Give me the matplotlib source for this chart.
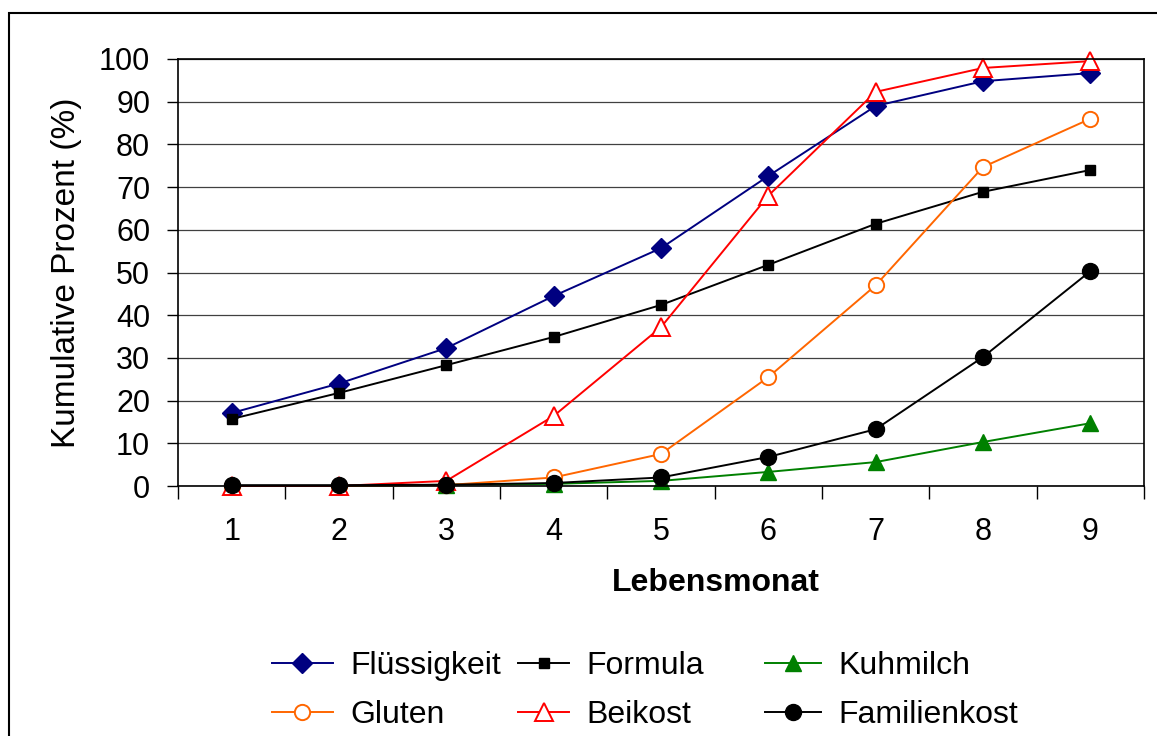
import matplotlib
matplotlib.use("Agg")
import matplotlib.pyplot as plt
from matplotlib.patches import Rectangle

plt.rcParams['font.family'] = ['Liberation Sans', 'DejaVu Sans']

months = [1, 2, 3, 4, 5, 6, 7, 8, 9]
fluessigkeit = [17.1, 24.0, 32.3, 44.5, 55.7, 72.6, 89.0, 94.8, 96.7]
formula = [15.7, 21.8, 28.3, 34.9, 42.4, 51.8, 61.4, 68.9, 74.0]
kuhmilch = [0.0, 0.0, 0.3, 0.5, 1.2, 3.3, 5.6, 10.3, 14.7]
gluten = [0.0, 0.0, 0.2, 2.0, 7.5, 25.5, 47.0, 74.7, 86.0]
beikost = [0.0, 0.0, 1.2, 16.4, 37.2, 68.0, 92.3, 97.9, 99.5]
familienkost = [0.2, 0.2, 0.3, 0.7, 2.0, 6.8, 13.3, 30.2, 50.3]

labels = ['Flüssigkeit', 'Formula', 'Kuhmilch', 'Gluten', 'Beikost', 'Familienkost']
yticks = [0, 10, 20, 30, 40, 50, 60, 70, 80, 90, 100]

fig = plt.figure(figsize=(11.57, 7.36), dpi=100)
ax = fig.add_axes([178/1157, 1-486/736, (1144-178)/1157, (486-59)/736])

lw = 1.4
styles = [
    dict(color='#000080', marker='D', ms=10, mfc='#000080', mec='#000080'),
    dict(color='black', marker='s', ms=7.5, mfc='black', mec='black'),
    dict(color='#008000', marker='^', ms=12, mfc='#008000', mec='#008000'),
    dict(color='#FF6600', marker='o', ms=11, mfc='white', mec='#FF6600', mew=1.4),
    dict(color='#FF0000', marker='^', ms=13, mfc='white', mec='#FF0000', mew=1.4),
    dict(color='black', marker='o', ms=11.5, mfc='black', mec='black'),
]
series = [fluessigkeit, formula, kuhmilch, gluten, beikost, familienkost]
handles = []
for vals, st, lab in zip(series, styles, labels):
    h, = ax.plot(months, vals, lw=lw, label=lab, clip_on=False, **st)
    handles.append(h)

ax.set_xlim(0.5, 9.5)
ax.set_ylim(0, 100)
ax.set_yticks(yticks)
ax.set_xticks(months)
ax.set_xticks([m - 0.5 for m in months] + [9.5], minor=True)
ax.tick_params(axis='x', which='major', length=0, pad=22, labelsize=22)
ax.tick_params(axis='x', which='minor', length=9, width=1, direction='out')
ax.tick_params(axis='y', which='major', length=8, width=1, direction='out', pad=12, labelsize=22)
ax.grid(axis='y', color='#404040', linewidth=0.9)
ax.set_axisbelow(True)
for sp in ax.spines.values():
    sp.set_linewidth(1.2)
    sp.set_color('black')

ax.set_ylabel('Kumulative Prozent (%)', fontsize=24, labelpad=12)
ax.set_xlabel('Lebensmonat', fontsize=23, fontweight='bold')
ax.xaxis.set_label_coords((716-178)/966, -(583-486)/427, transform=ax.transAxes)
ax.xaxis.label.set_va('center')

# legend in three columns
cols = [(0, 3), (1, 4), (2, 5)]
xpos = [272/1157, 518/1157, 765/1157]
hlens = [1.9, 1.6, 1.75]
for (i, j), x, hl in zip(cols, xpos, hlens):
    fig.legend([handles[i], handles[j]], [labels[i], labels[j]],
               loc='upper left', bbox_to_anchor=(x, 1-651/736),
               frameon=False, fontsize=23, handlelength=hl,
               handletextpad=0.55, labelspacing=0.6, borderpad=0,
               borderaxespad=0)

fig.patches.append(Rectangle((9/1157, -0.05), 1.1, 0.05 + (1-13/736),
                             transform=fig.transFigure, fill=False,
                             edgecolor='black', linewidth=1.5, clip_on=False))

fig.savefig('out.png', dpi=100)
